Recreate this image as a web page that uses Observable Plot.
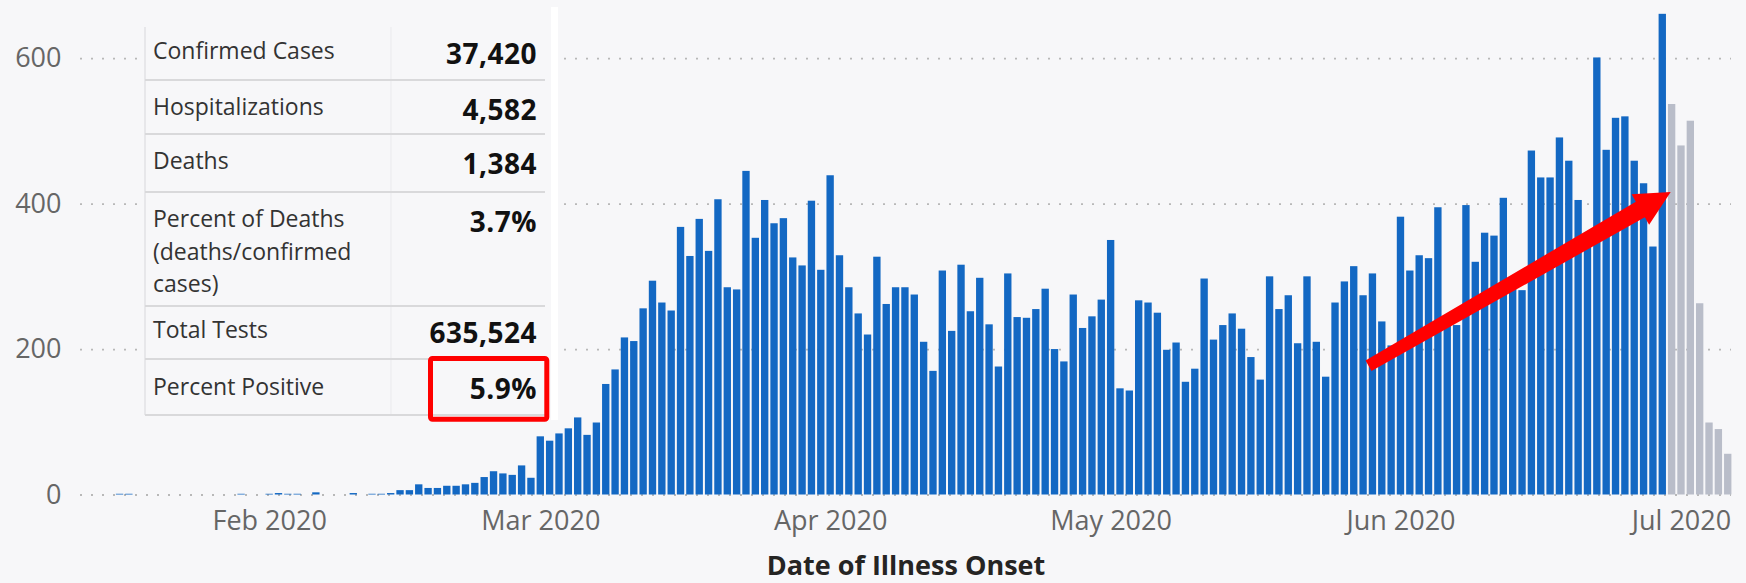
<!DOCTYPE html>
<html><head><meta charset="utf-8">
<script src="https://cdn.jsdelivr.net/npm/d3@7"></script>
<script src="https://cdn.jsdelivr.net/npm/@observablehq/plot@0.6"></script>
<style>
html,body{margin:0;padding:0;background:#f7f7f9;}
#chart{width:1746px;height:583px;overflow:hidden;}
</style></head><body><div id="chart"></div>
<script>
// ---- data ----
const startDate = "2020-01-15";
const cases = [
  0,1,1,0,0,0,0,0,0,0,0,0,0,0,
  1,0,0,1,2,1,1,0,3,0,0,0,2,0,1,1,2,
  6,6,14,9,9,12,12,14,16,24,32,29,27,40,23,
  80,74,84,91,106,82,99,152,172,216,
  211,256,294,264,253,368,328,379,335,406,
  285,282,445,353,405,373,380,326,315,404,
  309,439,329,285,249,220,327,262,285,285,
  275,210,170,308,225,316,252,298,234,176,
  304,244,243,255,283,200,183,275,229,245,
  268,350,146,143,267,264,250,199,209,155,
  173,297,213,233,249,228,189,158,300,255,
  274,208,300,210,162,264,293,314,274,304,
  238,205,382,308,329,325,395,245,233,398,
  320,360,356,408,295,281,473,436,436,491,
  459,405,355,601,474,518,520,459,428,341,
  661,537,480,514,263,99,90,56
];
const provisionalFrom = "2020-06-30";
const yTicks = [0, 200, 400, 600];
const monthTicks = ["2020-02-01","2020-03-01","2020-04-01","2020-05-01","2020-06-01","2020-07-01"];
const xDomain = ["2020-01-11T18:30Z", "2020-07-06T08:24Z"];
const xTitle = "Date of Illness Onset";
const tableLabels = [["Confirmed Cases"],["Hospitalizations"],["Deaths"],["Percent of Deaths","(deaths/confirmed","cases)"],["Total Tests"],["Percent Positive"]];
const tableValues = ["37,420","4,582","1,384","3.7%","635,524","5.9%"];
const highlightRow = 5;
const trendArrow = [{date:"2020-05-28T14:00Z", value:177},{date:"2020-06-29T21:36Z", value:416}];

// ---- build table ----
const t0 = new Date(startDate + "T00:00Z");
const pf = new Date(provisionalFrom + "T00:00Z");
const rows = cases.map((v, i) => {
  const d = d3.utcDay.offset(t0, i);
  return {date: d, x1: d3.utcHour.offset(d, -12), x2: d3.utcHour.offset(d, 12), cases: v, prov: d >= pf};
});

function arrowMark(index, scales) {
  const [a, b] = trendArrow;
  const x1 = scales.x(new Date(a.date)), y1 = scales.y(a.value);
  const x2 = scales.x(new Date(b.date)), y2 = scales.y(b.value);
  const L = Math.hypot(x2 - x1, y2 - y1);
  const ux = (x2 - x1) / L, uy = (y2 - y1) / L;
  const nx = -uy, ny = ux;
  const headLen = 35, headHalf = 17.6, tailHalf = 6, baseHalf = 9;
  const bx = x2 - ux * headLen, by = y2 - uy * headLen;
  const pts = [
    [x1 + nx * tailHalf, y1 + ny * tailHalf],
    [bx + nx * baseHalf, by + ny * baseHalf],
    [bx + nx * headHalf, by + ny * headHalf],
    [x2, y2],
    [bx - nx * headHalf, by - ny * headHalf],
    [bx - nx * baseHalf, by - ny * baseHalf],
    [x1 - nx * tailHalf, y1 - ny * tailHalf]
  ];
  const el = document.createElementNS("http://www.w3.org/2000/svg", "path");
  el.setAttribute("d", "M" + pts.map(p => p.join(",")).join("L") + "Z");
  el.setAttribute("fill", "#ff0000");
  return el;
}

const plot = Plot.plot({
  width: 1746, height: 583,
  marginLeft: 80, marginRight: 15, marginTop: 0, marginBottom: 88.5,
  style: {background: "transparent", fontFamily: "'Open Sans', sans-serif", fontSize: "27px", color: "#666"},
  x: {type: "utc", domain: xDomain.map(s => new Date(s))},
  y: {domain: [0, 680]},
  marks: [
    Plot.ruleY(yTicks, {stroke: "#b8b8b8", strokeWidth: 1.8, strokeDasharray: "2,9"}),
    Plot.rectY(rows.filter(d => !d.prov), {x1: "x1", x2: "x2", y: "cases", fill: "#1368c3", insetLeft: 1, insetRight: 1}),
    Plot.rectY(rows.filter(d => d.prov), {x1: "x1", x2: "x2", y: "cases", fill: "#b9bdc9", insetLeft: 1, insetRight: 1}),
    Plot.axisX({ticks: monthTicks.map(s => new Date(s + "T00:00Z")), tickFormat: d3.utcFormat("%b %Y"), tickSize: 0, tickPadding: 16, label: null, fontSize: 27}),
    Plot.axisY({ticks: yTicks, tickSize: 0, tickPadding: 19, label: null, fontSize: 27}),
    Plot.text([xTitle], {text: d => d, frameAnchor: "bottom", lineAnchor: "bottom", dy: 80, fontWeight: "bold", fontSize: 27, fill: "#252423"}),
    arrowMark
  ]
});
document.getElementById("chart").appendChild(plot);

// ---- summary table overlay ----
const svg = d3.select(plot);
const g = svg.append("g").attr("font-family", "'Open Sans', sans-serif").attr("text-anchor", "start");
g.append("rect").attr("x", 138).attr("y", 7).attr("width", 425).attr("height", 423).attr("fill", "#f7f7f9");
g.append("rect").attr("x", 551).attr("y", 7).attr("width", 7).attr("height", 413).attr("fill", "#ffffff");
const rowLines = [80, 134, 192, 306, 359, 415];
g.append("line").attr("x1", 145).attr("x2", 145).attr("y1", 27).attr("y2", 415).attr("stroke", "#e2e2e4").attr("stroke-width", 1.5);
g.append("line").attr("x1", 391).attr("x2", 391).attr("y1", 27).attr("y2", 415).attr("stroke", "#ececee").attr("stroke-width", 1.2);
rowLines.forEach(y => g.append("line").attr("x1", 145).attr("x2", 545).attr("y1", y).attr("y2", y).attr("stroke", "#d9d9db").attr("stroke-width", 2));
const labelBase = [58.5, 115, 169, 227, 338, 395];
const valueBase = [64, 120, 174, 232, 343, 399];
tableLabels.forEach((lines, i) => {
  lines.forEach((s, j) => g.append("text").attr("x", 153).attr("y", labelBase[i] + j * 32.5)
    .attr("text-anchor", "start").attr("font-size", 23).attr("fill", "#333").text(s));
  g.append("text").attr("x", 537).attr("y", valueBase[i]).attr("text-anchor", "end")
    .attr("font-size", 28).attr("font-weight", "bold").attr("letter-spacing", 0.5).attr("fill", "#111").text(tableValues[i]);
});
g.append("rect").attr("x", 430.5).attr("y", 358.5).attr("width", 116.3).attr("height", 60.7)
  .attr("fill", "none").attr("stroke", "#ff0000").attr("stroke-width", 5).attr("rx", 2);
</script></body></html>
